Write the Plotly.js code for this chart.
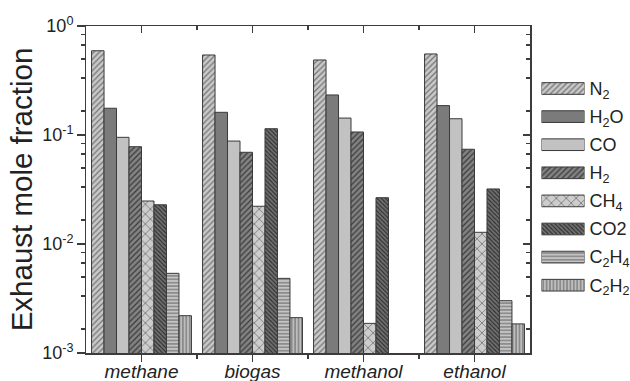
<!DOCTYPE html>
<html>
<head>
<meta charset="utf-8">
<script src="https://cdn.plot.ly/plotly-3.0.1.min.js"></script>
<style>
  html, body { margin: 0; padding: 0; background: #fff; }
  #chart { width: 630px; height: 381px; }
</style>
</head>
<body>
<div id="chart"></div>
<script>
// Exhaust composition per fuel (mole fractions, log scale)
const fuels = ['methane', 'biogas', 'methanol', 'ethanol'];
const species = ['N2', 'H2O', 'CO', 'H2', 'CH4', 'CO2', 'C2H4', 'C2H2'];
const speciesLabels = ['N<sub>2</sub>', 'H<sub>2</sub>O', 'CO', 'H<sub>2</sub>', 'CH<sub>4</sub>', 'CO2',
                       'C<sub>2</sub>H<sub>4</sub>', 'C<sub>2</sub>H<sub>2</sub>'];

const n2   = [0.593, 0.542, 0.488, 0.554];
const h2o  = [0.176, 0.1615, 0.233, 0.186];
const co   = [0.0952, 0.088, 0.143, 0.141];
const h2   = [0.0781, 0.0694, 0.1066, 0.074];
const ch4  = [0.0248, 0.0222, 0.00187, 0.0128];
const co2  = [0.0229, 0.1142, 0.0266, 0.032];
const c2h4 = [0.00538, 0.00484, null, 0.00302];
const c2h2 = [0.0022, 0.00211, null, 0.00185];
const seriesValues = [n2, h2o, co, h2, ch4, co2, c2h4, c2h2];

const yTickVals = [0.001, 0.01, 0.1, 1];
const yTickText = ['10<sup>-3</sup>', '10<sup>-2</sup>', '10<sup>-1</sup>', '10<sup>0</sup>'];

// Fill / hatch style for each species
const styles = [
  { bg: '#c9c9c9', shape: '/',  fg: '#737373', size: 4,   solidity: 0.3 },
  { bg: '#7b7b7b', shape: '',   fg: '#7b7b7b', size: 8,   solidity: 0.3 },
  { bg: '#c2c2c2', shape: '',   fg: '#c2c2c2', size: 8,   solidity: 0.3 },
  { bg: '#838383', shape: '/',  fg: '#3a3a3a', size: 4,   solidity: 0.3 },
  { bg: '#cdcdcd', shape: 'x',  fg: '#6a6a6a', size: 7,   solidity: 0.2 },
  { bg: '#707070', shape: '\\', fg: '#2a2a2a', size: 3,   solidity: 0.35 },
  { bg: '#c4c4c4', shape: '-',  fg: '#6e6e6e', size: 3.4, solidity: 0.32 },
  { bg: '#bdbdbd', shape: '|',  fg: '#6e6e6e', size: 3.4, solidity: 0.32 }
];

const FONT = 'Arial, "Liberation Sans", sans-serif';
const INK = '#222';
const FRAME = '#3c3c3c';
const outline = { color: '#3a3a3a', width: 1 };
const fuelPos = fuels.map((f, i) => i);

function markerFor(s) {
  const m = { color: s.bg, line: outline };
  if (s.shape) {
    m.pattern = { shape: s.shape, bgcolor: s.bg, fgcolor: s.fg, size: s.size, solidity: s.solidity, fillmode: 'replace' };
  }
  return m;
}

const traces = species.map((sp, i) => ({
  type: 'bar',
  name: sp,
  x: fuelPos,
  y: seriesValues[i],
  marker: markerFor(styles[i]),
  showlegend: false,
  hoverinfo: 'skip'
}));

// Key: one swatch per species on its own small axis pair
species.forEach((sp, i) => {
  traces.push({
    type: 'bar',
    orientation: 'h',
    x: [1],
    y: [sp],
    width: 0.416,
    xaxis: 'x3',
    yaxis: 'y3',
    marker: markerFor(styles[i]),
    showlegend: false,
    hoverinfo: 'skip'
  });
});

// Carrier for the top / right frame axes (inward ticks)
traces.push({ type: 'scatter', x: [], y: [], xaxis: 'x2', yaxis: 'y2', showlegend: false, hoverinfo: 'skip' });

// Minor log ticks at k/6 of each decade
const minorY = [];
[0.01, 0.1, 1].forEach(top => { for (let k = 1; k <= 5; k++) minorY.push(top * k / 6); });

const xDomain = [86 / 630, 530 / 630];
const yDomain = [28 / 381, 355 / 381];

const layout = {
  width: 630,
  height: 381,
  margin: { l: 0, r: 0, t: 0, b: 0 },
  paper_bgcolor: '#fff',
  plot_bgcolor: '#fff',
  barmode: 'group',
  bargap: 0.1,
  bargroupgap: 0,
  font: { family: FONT, color: INK },
  xaxis: {
    domain: xDomain, anchor: 'y',
    range: [-0.5, 3.5], autorange: false,
    tickmode: 'array', tickvals: fuelPos, ticktext: fuels,
    tickfont: { family: FONT, size: 19, style: 'italic', color: INK },
    ticks: 'outside', ticklen: 7, tickwidth: 1.5, tickcolor: FRAME,
    ticklabelstandoff: -6,
    minor: { tickvals: [0.5, 1.5, 2.5], ticks: 'outside', ticklen: 4, tickwidth: 1.5, tickcolor: FRAME },
    showline: true, linecolor: FRAME, linewidth: 1.5,
    showgrid: false, zeroline: false, automargin: false
  },
  xaxis2: {
    domain: xDomain, anchor: 'y', overlaying: 'x', side: 'top',
    range: [-0.5, 3.5], autorange: false,
    tickmode: 'array', tickvals: fuelPos, showticklabels: false,
    ticks: 'inside', ticklen: 7, tickwidth: 1.5, tickcolor: FRAME,
    minor: { tickvals: [0.5, 1.5, 2.5], ticks: 'inside', ticklen: 4, tickwidth: 1.5, tickcolor: FRAME },
    showline: true, linecolor: FRAME, linewidth: 1.5,
    showgrid: false, zeroline: false, automargin: false
  },
  yaxis: {
    domain: yDomain, anchor: 'x',
    type: 'log', range: [-3, 0], autorange: false,
    tickmode: 'array', tickvals: yTickVals, ticktext: yTickText,
    tickfont: { family: FONT, size: 18, color: INK },
    ticks: 'outside', ticklen: 7.5, tickwidth: 1.5, tickcolor: FRAME,
    minor: { tickvals: minorY, ticks: 'outside', ticklen: 4, tickwidth: 1.5, tickcolor: FRAME },
    showline: true, linecolor: FRAME, linewidth: 1.5,
    showgrid: false, zeroline: false, automargin: false,
    title: { text: 'Exhaust mole fraction', font: { family: FONT, size: 29.5, color: INK }, standoff: 1 }
  },
  yaxis2: {
    domain: yDomain, anchor: 'x', overlaying: 'y', side: 'right',
    type: 'log', range: [-3, 0], autorange: false,
    tickmode: 'array', tickvals: yTickVals, showticklabels: false,
    ticks: 'inside', ticklen: 7.5, tickwidth: 1.5, tickcolor: FRAME,
    minor: { tickvals: minorY, ticks: 'inside', ticklen: 4, tickwidth: 1.5, tickcolor: FRAME },
    showline: true, linecolor: FRAME, linewidth: 1.5,
    showgrid: false, zeroline: false, automargin: false
  },
  xaxis3: {
    domain: [541.5 / 630, 584.5 / 630], anchor: 'y3',
    range: [0, 1], autorange: false,
    visible: false, fixedrange: true
  },
  yaxis3: {
    domain: [(381 - 299.25) / 381, (381 - 74.45) / 381], anchor: 'x3',
    type: 'category', categoryorder: 'array', categoryarray: species,
    range: [7.5, -0.5], autorange: false,
    side: 'right',
    tickmode: 'array', tickvals: species, ticktext: speciesLabels,
    tickfont: { family: FONT, size: 18, color: INK },
    ticks: '', ticklabelstandoff: 4,
    showline: false, showgrid: false, zeroline: false, automargin: false
  }
};

Plotly.newPlot('chart', traces, layout, { staticPlot: true, displayModeBar: false });
</script>
</body>
</html>
